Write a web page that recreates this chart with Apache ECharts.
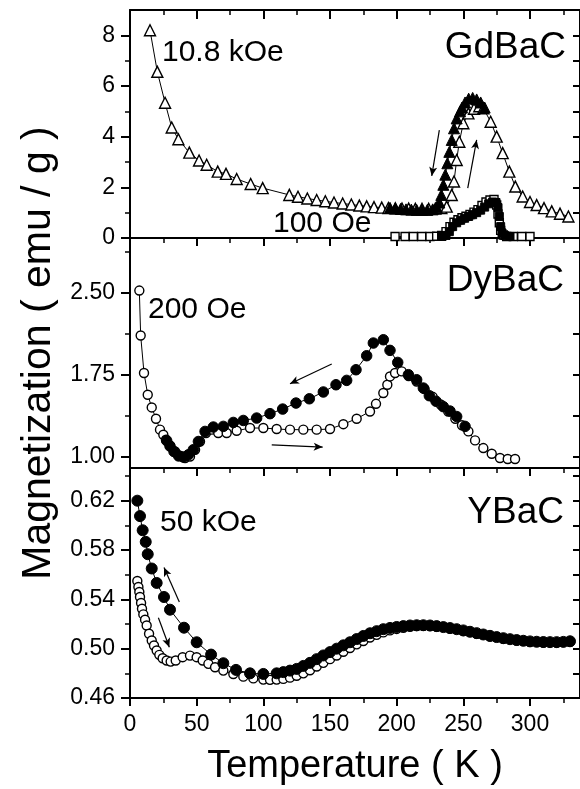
<!DOCTYPE html>
<html><head><meta charset="utf-8">
<script src="https://cdn.jsdelivr.net/npm/echarts@6/dist/echarts.min.js"></script>
<style>html,body{margin:0;padding:0;background:#fff}#c{width:580px;height:789px}</style>
</head><body><div id="c"></div>
<script>
// ---------- data ----------
// GdBaC, 10.8 kOe, warming (open triangles)
const gdOpen = [[15,8.2],[20.5,6.56],[26.3,5.34],[31.3,4.36],[36.3,3.9],[44.5,3.37],[51.8,3.06],[57.5,2.89],[65.8,2.62],[72,2.53],[80,2.33],[90.5,2.13],[99.5,1.97],[119.5,1.7],[126,1.63],[133,1.56],[140,1.5],[146.5,1.45],[153,1.4],[159.5,1.36],[166,1.32],[172,1.28],[177.5,1.25],[183,1.22],[188.8,1.2],[193.8,1.18],[199,1.17],[204,1.16],[209,1.16],[214,1.15],[219,1.15],[224,1.15],[229,1.16],[233.5,1.18],[237.5,1.24],[241.3,1.7],[243,2.23],[245,3.08],[247,3.8],[250,4.53],[253.8,4.92],[258,5.1],[262,5.2],[265,5.12],[270.5,4.59],[275,4.0],[279.5,3.35],[284.5,2.62],[289,2.03],[294.5,1.64],[300,1.42],[305,1.3],[310.5,1.18],[316.3,1.05],[322.5,0.96],[328.8,0.85]];
// GdBaC, 10.8 kOe, cooling (filled triangles)
const gdFilled = [[266,5.15],[263,5.35],[260,5.47],[257,5.53],[254,5.5],[251.3,5.35],[249,5.15],[247.5,5.0],[245,4.72],[243,4.33],[241.3,3.87],[239.5,3.4],[238,2.95],[236.5,2.5],[235,2.1],[233.5,1.7],[232,1.4],[230,1.22],[227,1.13],[223,1.11],[219,1.11],[215,1.11],[211,1.12],[207,1.13],[203,1.15],[199,1.17],[195,1.19]];
// GdBaC, 100 Oe, warming (open squares)
const gdSqOpen = [[198.8,0.06],[206.3,0.06],[212.5,0.06],[218.8,0.06],[225,0.06],[230,0.07],[233.8,0.1],[237,0.25],[240,0.45],[243,0.62],[246,0.72],[249,0.8],[252,0.86],[255,0.93],[258,1.02],[261,1.12],[264,1.28],[267,1.42],[270,1.5],[273,1.52],[275,1.3],[276,0.95],[277,0.6],[278,0.3],[280,0.12],[282.5,0.06],[287.5,0.06],[293.8,0.06],[300,0.06]];
// GdBaC, 100 Oe, cooling (filled squares)
const gdSqFilled = [[285,0.06],[281,0.1],[279,0.2],[278,0.45],[277,0.85],[276,1.2],[274.5,1.4],[272,1.42],[269,1.35],[266,1.22],[263,1.1],[260,1.0],[257,0.92],[254,0.85],[251,0.78],[248,0.7],[245,0.6],[242,0.45],[239.5,0.25],[237,0.1],[234,0.06]];
// DyBaC, 200 Oe, warming (open circles)
const dyOpen = [[7,2.52],[8,2.11],[10.5,1.767],[13.3,1.569],[16.3,1.453],[19.5,1.35],[22.5,1.25],[25,1.204],[27,1.158],[30,1.103],[33.8,1.051],[37.5,1.012],[41.3,0.991],[45,1.005],[48.8,1.067],[52.5,1.142],[57,1.219],[61.3,1.25],[66.2,1.22],[72.5,1.22],[80,1.24],[90,1.265],[100,1.265],[110,1.256],[120,1.25],[130,1.25],[140,1.25],[150,1.256],[160,1.3],[170,1.35],[180,1.416],[184.5,1.486],[190,1.585],[193,1.66],[195,1.736],[198.8,1.767],[203.8,1.782],[209,1.74],[215,1.69],[221,1.62],[227,1.55],[233,1.48],[238.7,1.416],[244,1.35],[249,1.29],[253.8,1.234],[258.8,1.152],[265,1.082],[271.3,1.03],[277.5,0.991],[283.3,0.982],[288.8,0.982]];
// DyBaC, 200 Oe, cooling (filled circles)
const dyFilled = [[251.3,1.28],[245,1.37],[240,1.42],[235,1.46],[229.5,1.51],[224.5,1.56],[220,1.63],[215,1.706],[208.8,1.752],[200.8,1.864],[195,1.974],[190,2.071],[182.5,2.041],[177.5,1.925],[169.5,1.797],[162.5,1.7],[154.5,1.66],[145,1.594],[134.5,1.532],[124.5,1.493],[114.5,1.438],[105,1.396],[95,1.356],[85,1.334],[77.5,1.316],[70,1.28],[62.5,1.274],[56.3,1.234],[51.3,1.142],[47.5,1.067],[43.8,1.021],[40,1.0],[36.5,1.01],[33,1.05],[30,1.1],[27.5,1.15]];
// YBaC, 50 kOe, warming (open circles)
const yOpen = [[5.5,0.5549],[6.3,0.55],[7,0.546],[7.5,0.5419],[8.3,0.537],[9,0.5324],[10,0.5278],[11.3,0.5235],[12.5,0.5188],[14.3,0.5121],[16.3,0.5066],[18,0.5026],[20,0.4985],[22,0.495],[24.5,0.4922],[27.5,0.4904],[30.5,0.4895],[34.3,0.4904],[39.5,0.4931],[45,0.4944],[50,0.4931],[54.5,0.4904],[58.8,0.4877],[63.8,0.4849],[70,0.4822],[77.5,0.4795],[85,0.4773],[92.5,0.4759],[100,0.4749],[105,0.4747],[110,0.4749],[115,0.4755],[120,0.4765],[125,0.478],[130,0.48],[135,0.4825],[140,0.4855],[145,0.4885],[150,0.4915],[155,0.4945],[160,0.4975],[165,0.5005],[170,0.5035],[175,0.5062],[180,0.509],[185,0.5112],[190,0.5132],[195,0.5148],[200,0.516],[205,0.517],[210,0.5178],[215,0.5183],[220,0.5185],[225,0.5183],[230,0.5178],[240,0.5163],[250,0.5143],[260,0.5121],[270,0.5099],[280,0.508],[290,0.5066],[300,0.5055],[310,0.505],[320,0.5049],[330,0.5055]];
// YBaC, 50 kOe, cooling (filled circles)
const yFilled = [[5.5,0.62],[7.5,0.6075],[9.5,0.596],[11.8,0.5866],[13.3,0.5766],[16.3,0.565],[20,0.5533],[25.5,0.5419],[30,0.5316],[40.5,0.517],[50,0.5052],[60.8,0.4952],[70,0.4882],[79.5,0.4828],[90,0.48],[100,0.4795],[110,0.48],[115,0.481],[120,0.4822],[125,0.4836],[130,0.486],[135,0.4885],[140,0.4915],[145,0.4945],[150,0.4972],[155,0.5],[160,0.5027],[165,0.5052],[170,0.5078],[175,0.5103],[180,0.5125],[185,0.5142],[190,0.5158],[195,0.5168],[200,0.5176],[205,0.5183],[210,0.5188],[215,0.519],[220,0.519],[225,0.5188],[230,0.5183],[235,0.5175],[240,0.5167],[245,0.5158],[250,0.5148],[255,0.5137],[260,0.5126],[265,0.5115],[270,0.5104],[275,0.5094],[280,0.5085],[285,0.5077],[290,0.507],[295,0.5064],[300,0.5059],[305,0.5056],[310,0.5054],[315,0.5053],[320,0.5053],[325,0.5055],[330,0.506]];
// arrows [T1,M1,T2,M2] (head at second point)
const gdArrows = [[232,4.26,226.3,2.45],[253.3,1.97,260,3.87]];
const dyArrows = [[151.3,1.849,120,1.669],[106.3,1.112,144.5,1.091]];
const yArrows = [[37,0.5378,25.5,0.5658],[21.3,0.5251,29.5,0.5012]];
// ticks
const xRange = [0, 337.5];
const xMajor = [0,50,100,150,200,250,300];
const xMinor = [25,75,125,175,225,275,325];
const gdRange = [0, 9], gdMajor = [0,2,4,6,8], gdMinor = [1,3,5,7];
const dyRange = [0.9, 3.0], dyMajor = [1.00,1.75,2.50], dyMinor = [1.375,2.125,2.875];
const yRange = [0.46, 0.6465], yMajor = [0.46,0.50,0.54,0.58,0.62], yMinor = [0.48,0.52,0.56,0.60,0.64];
// texts
const panelNames = ['GdBaC','DyBaC','YBaC'];
const fieldNames = ['10.8 kOe','100 Oe','200 Oe','50 kOe'];
const xTitle = 'Temperature ( K )';
const yTitle = 'Magnetization ( emu / g )';

// ---------- layout ----------
const FONT = '"Liberation Sans", Arial, Helvetica, sans-serif';
const TICKFS = 23;
const grids = [
  {left:130, right:0, top:10, height:228},
  {left:130, right:0, top:238, height:230},
  {left:130, right:0, top:468, height:230}
];
const panels = [
  {range:gdRange, major:gdMajor, minor:gdMinor, dec:0},
  {range:dyRange, major:dyMajor, minor:dyMinor, dec:2},
  {range:yRange, major:yMajor, minor:yMinor, dec:2}
];
const xAxes = [], yAxes = [], mainX = [], mainY = [];
function base(){return {type:'value', splitLine:{show:false}, axisPointer:{show:false}};}
panels.forEach((p, g) => {
  mainX.push(xAxes.length);
  xAxes.push(Object.assign(base(), {gridIndex:g, position:'bottom', min:xRange[0], max:xRange[1],
    axisLine:{show:true, onZero:false, lineStyle:{color:'#000', width:2}},
    axisTick:{show:true, inside:false, length:8, customValues:xMajor, lineStyle:{color:'#000', width:2}},
    axisLabel:{show:g===2, customValues:xMajor, margin:15, fontSize:TICKFS, color:'#000', fontFamily:FONT},
    name: g===2 ? xTitle : '', nameLocation:'middle', nameGap:50,
    nameTextStyle:{fontSize:38, color:'#000', fontFamily:FONT}}));
  xAxes.push(Object.assign(base(), {gridIndex:g, position:'bottom', min:xRange[0], max:xRange[1],
    axisLine:{show:false, onZero:false},
    axisTick:{show:true, inside:false, length:5, customValues:xMinor, lineStyle:{color:'#000', width:1.5}},
    axisLabel:{show:false}}));
  if (g===0) {
    xAxes.push(Object.assign(base(), {gridIndex:g, position:'top', min:xRange[0], max:xRange[1],
      axisLine:{show:true, onZero:false, lineStyle:{color:'#000', width:2}},
      axisTick:{show:true, inside:true, length:9, customValues:xMajor, lineStyle:{color:'#000', width:2}},
      axisLabel:{show:false}}));
    xAxes.push(Object.assign(base(), {gridIndex:g, position:'top', min:xRange[0], max:xRange[1],
      axisLine:{show:false, onZero:false},
      axisTick:{show:true, inside:true, length:5, customValues:xMinor, lineStyle:{color:'#000', width:1.5}},
      axisLabel:{show:false}}));
  }
  mainY.push(yAxes.length);
  yAxes.push(Object.assign(base(), {gridIndex:g, position:'left', min:p.range[0], max:p.range[1],
    axisLine:{show:true, onZero:false, lineStyle:{color:'#000', width:2}},
    axisTick:{show:true, inside:false, length:9, customValues:p.major, lineStyle:{color:'#000', width:2}},
    axisLabel:{show:true, customValues:p.major, margin:15, fontSize:TICKFS, color:'#000', fontFamily:FONT,
      formatter:(v)=>Number(v).toFixed(p.dec)},
    name: g===1 ? yTitle : '', nameLocation:'middle', nameGap:66, nameRotate:90,
    nameTextStyle:{fontSize:41, color:'#000', fontFamily:FONT}}));
  yAxes.push(Object.assign(base(), {gridIndex:g, position:'left', min:p.range[0], max:p.range[1],
    axisLine:{show:false, onZero:false},
    axisTick:{show:true, inside:false, length:5, customValues:p.minor, lineStyle:{color:'#000', width:1.5}},
    axisLabel:{show:false}}));
  const all = p.major.concat(p.minor).filter(v => v > p.range[0] && v < p.range[1]);
  yAxes.push(Object.assign(base(), {gridIndex:g, position:'right', min:p.range[0], max:p.range[1],
    axisLine:{show:true, onZero:false, lineStyle:{color:'#000', width:2}},
    axisTick:{show:true, inside:true, length:7, customValues:all, lineStyle:{color:'#000', width:2}},
    axisLabel:{show:false}}));
});

function arrowLines(arr){
  return {silent:true, animation:false, symbol:['none','arrow'], symbolSize:[6,9],
    lineStyle:{color:'#000', width:1.2, type:'solid'}, label:{show:false}, emphasis:{disabled:true},
    data: arr.map(a => [{coord:[a[0],a[1]]},{coord:[a[2],a[3]]}])};
}
function ser(g, data, symbol, size, filled, extra){
  return Object.assign({type:'line', xAxisIndex:mainX[g], yAxisIndex:mainY[g], data:data,
    symbol:symbol, symbolSize:size, showSymbol:true, showAllSymbol:true, animation:false,
    lineStyle:{color:'#000', width:1}, emphasis:{disabled:true},
    itemStyle: filled ? {color:'#000', borderColor:'#000', borderWidth:1} : {color:'#fff', borderColor:'#000', borderWidth:1.4}}, extra||{});
}
const series = [
  ser(0, gdOpen, 'triangle', 11, false, {markLine:arrowLines(gdArrows)}),
  ser(0, gdFilled, 'triangle', 11, true),
  ser(0, gdSqOpen, 'rect', 8, false),
  ser(0, gdSqFilled, 'rect', 8, true),
  ser(1, dyOpen, 'circle', 9, false, {markLine:arrowLines(dyArrows)}),
  ser(1, dyFilled, 'circle', 10.5, true),
  ser(2, yOpen, 'circle', 9, false, {markLine:arrowLines(yArrows)}),
  ser(2, yFilled, 'circle', 11, true)
];
function txt(t, x, y, size, align){
  return {type:'text', x:x, y:y, z:100, style:{text:t, font:size+'px '+FONT, fill:'#000', textAlign:align, textVerticalAlign:'middle'}};
}
const chart = echarts.init(document.getElementById('c'), null, {renderer:'canvas'});
chart.setOption({
  animation:false,
  backgroundColor:'#fff',
  grid: grids,
  xAxis: xAxes,
  yAxis: yAxes,
  series: series,
  graphic: [
    txt(panelNames[0], 566, 48, 37, 'right'),
    txt(panelNames[1], 564, 281, 37, 'right'),
    txt(panelNames[2], 564, 513, 37, 'right'),
    txt(fieldNames[0], 162, 53, 30, 'left'),
    txt(fieldNames[1], 273, 224, 30, 'left'),
    txt(fieldNames[2], 148, 310, 30, 'left'),
    txt(fieldNames[3], 160, 523, 30, 'left')
  ]
});
</script></body></html>
